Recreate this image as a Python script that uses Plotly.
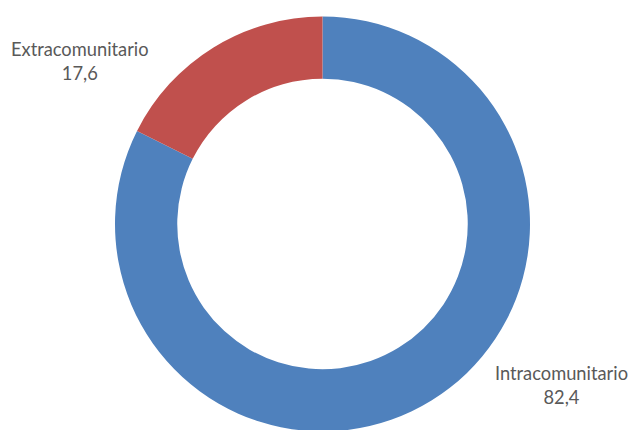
import plotly.graph_objects as go

labels = ["Intracomunitario", "Extracomunitario"]
values = [82.4, 17.6]
value_text = ["82,4", "17,6"]
colors = ["#4F81BD", "#C0504D"]

W, H = 637, 430
# page body has an 8px margin, so figure coords are screen coords minus 8
cx, cy, r = 314.5, 216, 207.5

fig = go.Figure(go.Pie(
    labels=labels, values=values, hole=0.70, sort=False,
    direction="clockwise", rotation=0,
    marker=dict(colors=colors, line=dict(width=0)),
    textinfo="none", hoverinfo="label+value", showlegend=False,
    domain=dict(x=[(cx - r) / W, (cx + r) / W], y=[(H - cy - r) / H, (H - cy + r) / H]),
))

font = dict(family="Lato, Open Sans, sans-serif", size=18.3, color="#595959")
label_pos = {"Extracomunitario": (72, 53), "Intracomunitario": (553, 377)}
for lab, vt in zip(labels, value_text):
    x, y = label_pos[lab]
    fig.add_annotation(x=x / W, y=1 - y / H, xref="paper", yref="paper",
                       text=f"{lab}<br>{vt}", showarrow=False, font=font,
                       align="center", xanchor="center", yanchor="middle")

fig.update_layout(width=W, height=H, margin=dict(l=0, r=0, t=0, b=0),
                  paper_bgcolor="white", plot_bgcolor="white")
fig.write_html("out.html")
